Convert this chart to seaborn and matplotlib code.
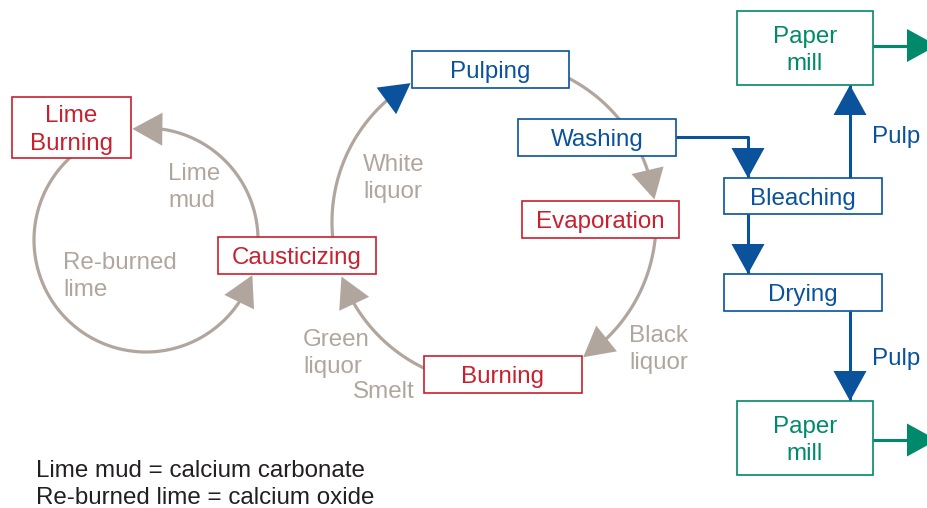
import numpy as np
import matplotlib.pyplot as plt
import seaborn as sns
from matplotlib.patches import Rectangle, Polygon

# --- content -------------------------------------------------------------
box_labels = ["Lime\nBurning", "Causticizing", "Pulping", "Washing", "Evaporation",
              "Burning", "Paper\nmill", "Bleaching", "Drying", "Paper\nmill"]
box_kind = ["chem", "chem", "fibre", "fibre", "chem",
            "chem", "mill", "fibre", "fibre", "mill"]
flow_labels = ["Lime\nmud", "Re-burned\nlime", "White\nliquor", "Green\nliquor",
               "Smelt", "Black\nliquor", "Pulp", "Pulp"]
notes = ["Lime mud = calcium carbonate", "Re-burned lime = calcium oxide"]

# --- layout (pixel space, y down) ---------------------------------------
box_xy = [(12, 97, 131, 158), (218, 237, 376, 274), (412, 51, 569, 88),
          (518, 119, 676, 156), (522, 201, 679, 238), (424, 356, 582, 393),
          (737, 11, 873, 85), (724, 178, 882, 214), (724, 274, 882, 311),
          (737, 401, 873, 475)]
flow_xy = [(168, 185), (63, 274), (363, 176), (303, 351),
           (353, 389), (629, 347), (872, 135), (872, 357)]
note_xy = [(36, 471), (36, 498)]

RED = "#c8202f"
BLUE = "#0a529c"
GREEN = "#00896a"
GRAY = "#b1a69e"
DARK = "#231f20"
colors = {"chem": RED, "fibre": BLUE, "mill": GREEN}

sns.set_theme(style="white")
plt.rcParams['font.family'] = ['Liberation Sans', 'DejaVu Sans']
FS = 17.4
LS = 1.32
DY = 2.5  # nudge text down a little

fig = plt.figure(figsize=(9.27, 5.08), dpi=100)
ax = fig.add_axes([0, 0, 1, 1])
ax.set_xlim(0, 927)
ax.set_ylim(508, 0)
ax.axis('off')


def head(tip, frm, color, length=30, width=33):
    tip = np.array(tip, float)
    d = tip - np.array(frm, float)
    d /= np.linalg.norm(d)
    n = np.array([-d[1], d[0]])
    base = tip - d * length
    ax.add_patch(Polygon([tip, base + n * width / 2, base - n * width / 2],
                         closed=True, fc=color, ec='none', zorder=2))


def cycle_arc(center, r, a0, a1, color, head_color=None):
    cx, cy = center
    step = np.degrees(30 / r) * np.sign(a1 - a0)
    t = np.radians(np.linspace(a0, a1 - step * 0.5, 120))
    ax.plot(cx + r * np.cos(t), cy + r * np.sin(t), color=color, lw=2.3,
            solid_capstyle='butt', zorder=1)
    tip = (cx + r * np.cos(np.radians(a1)), cy + r * np.sin(np.radians(a1)))
    b = np.radians(a1 - step)
    head(tip, (cx + r * np.cos(b), cy + r * np.sin(b)), head_color or color)


def connector(path, color):
    xs, ys = zip(*path)
    ax.plot(xs, ys, color=color, lw=2.2, solid_capstyle='butt', zorder=1)
    head(path[-1], path[-2], color)


# liquor cycle
big = (494, 222)
cycle_arc(big, 162, -66, -8, GRAY)
cycle_arc(big, 162, 0, 56.6, GRAY)
cycle_arc(big, 162, 112, 160.3, GRAY)
cycle_arc(big, 162, 172, 239, GRAY, head_color=BLUE)

# lime cycle
small = (146, 240)
cycle_arc(small, 112, 5, -97, GRAY)
cycle_arc(small, 112, 235, 18.3, GRAY)

# fibre line
connector([(676, 137), (748, 137), (748, 178)], BLUE)
connector([(748, 214), (748, 274)], BLUE)
connector([(850, 178), (850, 85)], BLUE)
connector([(850, 311), (850, 401)], BLUE)
connector([(873, 45.5), (937, 45.5)], GREEN)
connector([(873, 440), (937, 440)], GREEN)

for lab, kind, (x0, y0, x1, y1) in zip(box_labels, box_kind, box_xy):
    c = colors[kind]
    ax.add_patch(Rectangle((x0, y0), x1 - x0, y1 - y0, fc='white', ec=c,
                           lw=1.2, zorder=3))
    ax.text((x0 + x1) / 2, (y0 + y1) / 2 + DY, lab, color=c, fontsize=FS,
            ha='center', va='center', linespacing=LS, zorder=4)

for lab, (x, y) in zip(flow_labels, flow_xy):
    c = BLUE if lab == "Pulp" else GRAY
    ax.text(x, y + DY, lab, color=c, fontsize=FS, ha='left', va='center',
            linespacing=LS, zorder=4)

for lab, (x, y) in zip(notes, note_xy):
    ax.text(x, y, lab, color=DARK, fontsize=FS, ha='left', va='center')

fig.savefig('out.png', dpi=100)
